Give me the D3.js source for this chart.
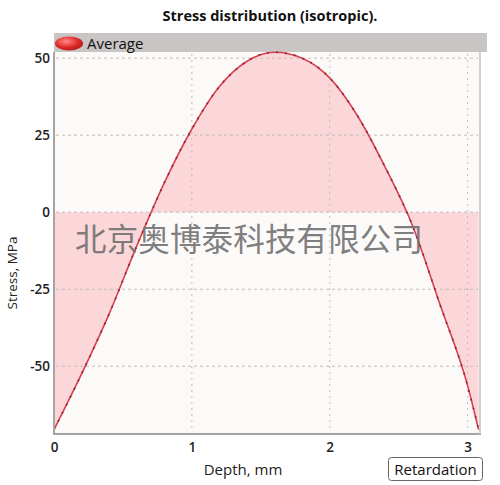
<!DOCTYPE html>
<html><head><meta charset="utf-8">
<script src="https://cdn.jsdelivr.net/npm/d3@7"></script>
<style>
html,body{margin:0;padding:0;background:#fff;}
svg{display:block;font-family:"Open Sans","DejaVu Sans",sans-serif;}
</style></head>
<body><svg id="c" width="500" height="485"></svg>
<script>
const title = "Stress distribution (isotropic).";
const seriesName = "Average";
const xLabel = "Depth, mm";
const yLabel = "Stress, MPa";
const buttonLabel = "Retardation";
const watermark = "北京奥博泰科技有限公司";
const depth  = [0, 0.2, 0.4, 0.6, 0.8, 1.0, 1.2, 1.4, 1.6, 1.8, 2.0, 2.2, 2.4, 2.6, 2.8, 3.0, 3.08];
const stress = [-70.6, -52.5, -33, -11, 9.5, 27, 40.8, 49, 51.9, 50, 43.6, 31.4, 14.8, -4.3, -30, -56.3, -70.6];
const xTicks = [0, 1, 2, 3];
const yTicks = [-50, -25, 0, 25, 50];
const xDomain = [0, 3.09];
const yDomain = [-72, 52];

const svg = d3.select("#c");
const L = 54, R = 480, T = 52, B = 434;
const x = d3.scaleLinear().domain(xDomain).range([L, R]);
const y = d3.scaleLinear().domain(yDomain).range([B, T]);

// title
svg.append("text").attr("x", 270).attr("y", 21).attr("text-anchor", "middle")
  .attr("font-size", 14.5).attr("font-weight", 700).attr("fill", "#111").text(title);

// plot background
svg.append("rect").attr("x", L).attr("y", T).attr("width", R - L).attr("height", B - T).attr("fill", "#fcf9f9");

// legend bar
svg.append("rect").attr("x", L).attr("y", 33).attr("width", 487 - L).attr("height", 19).attr("fill", "#c9c5c5");
const grad = svg.append("defs").append("radialGradient").attr("id", "eg").attr("cx", "40%").attr("cy", "35%").attr("r", "70%");
grad.append("stop").attr("offset", "0%").attr("stop-color", "#ff8a8a");
grad.append("stop").attr("offset", "60%").attr("stop-color", "#e02a2a");
grad.append("stop").attr("offset", "100%").attr("stop-color", "#b01818");
svg.append("ellipse").attr("cx", 69).attr("cy", 43.5).attr("rx", 14).attr("ry", 7).attr("fill", "url(#eg)");
svg.append("text").attr("x", 87).attr("y", 49).attr("font-size", 15).attr("fill", "#111").text(seriesName);

// area between curve and zero
const pts = depth.map((d, i) => [d, stress[i]]);
const area = d3.area().x(d => x(d[0])).y0(y(0)).y1(d => y(d[1])).curve(d3.curveMonotoneX);
svg.append("path").datum(pts).attr("d", area).attr("fill", "#fbd7da");

// grid
const g = svg.append("g");
g.selectAll(".hg").data(yTicks).join("line")
  .attr("x1", L + 2).attr("x2", R - 2).attr("y1", d => y(d)).attr("y2", d => y(d))
  .attr("stroke", "#c4bcbc").attr("stroke-width", 1).attr("stroke-dasharray", "3,3");
g.selectAll(".vg").data(xTicks.filter(d => d > 0)).join("line")
  .attr("x1", d => x(d)).attr("x2", d => x(d)).attr("y1", T + 2).attr("y2", B - 2)
  .attr("stroke", "#c4bcbc").attr("stroke-width", 1).attr("stroke-dasharray", "2,4");

// curve
const line = d3.line().x(d => x(d[0])).y(d => y(d[1])).curve(d3.curveMonotoneX);
svg.append("path").datum(pts).attr("d", line).attr("fill", "none").attr("stroke", "#d9414f").attr("stroke-width", 1.6);
svg.append("path").datum(pts).attr("d", line).attr("fill", "none").attr("stroke", "#8f2433").attr("stroke-width", 1.6).attr("stroke-dasharray", "2,7");

// frame
svg.append("line").attr("x1", L).attr("x2", L).attr("y1", T).attr("y2", B + 1).attr("stroke", "#a9a4a4").attr("stroke-width", 2);
svg.append("line").attr("x1", L).attr("x2", R + 1).attr("y1", B).attr("y2", B).attr("stroke", "#a9a4a4").attr("stroke-width", 2);
svg.append("line").attr("x1", R).attr("x2", R).attr("y1", T).attr("y2", B).attr("stroke", "#c8c2c2").attr("stroke-width", 1.5);

// axes labels via d3 axes
const fmt = d => String(d);
const ya = svg.append("g").attr("transform", `translate(${L},0)`)
  .call(d3.axisLeft(y).tickValues(yTicks).tickSize(0).tickPadding(4).tickFormat(fmt));
ya.select(".domain").remove();
ya.selectAll("text").attr("font-size", 13.5).attr("font-weight", 600).attr("fill", "#222").attr("font-family", "'Open Sans',sans-serif");
const xa = svg.append("g").attr("transform", `translate(0,${B})`)
  .call(d3.axisBottom(x).tickValues(xTicks).tickSize(0).tickPadding(8).tickFormat(fmt));
xa.select(".domain").remove();
xa.selectAll("text").attr("font-size", 13.5).attr("font-weight", 600).attr("fill", "#222").attr("font-family", "'Open Sans',sans-serif");

svg.append("text").attr("x", 243).attr("y", 475).attr("text-anchor", "middle").attr("font-size", 15).attr("fill", "#222").text(xLabel);
svg.append("text").attr("transform", "translate(17,273) rotate(-90)").attr("text-anchor", "middle").attr("font-size", 13.5).attr("fill", "#222").text(yLabel);

// button
svg.append("rect").attr("x", 388.5).attr("y", 457.5).attr("width", 94).attr("height", 23).attr("rx", 3)
  .attr("fill", "#fff").attr("stroke", "#666").attr("stroke-width", 1);
svg.append("text").attr("x", 435.5).attr("y", 475).attr("text-anchor", "middle").attr("font-size", 15).attr("fill", "#111").text(buttonLabel);

// watermark
svg.append("text").attr("x", 75).attr("y", 251).attr("font-family", "'Noto Sans CJK SC',sans-serif")
  .attr("font-size", 31.5).attr("fill", "#6e6e6e").attr("fill-opacity", 0.9).attr("textLength", 348).text(watermark);
</script></body></html>
